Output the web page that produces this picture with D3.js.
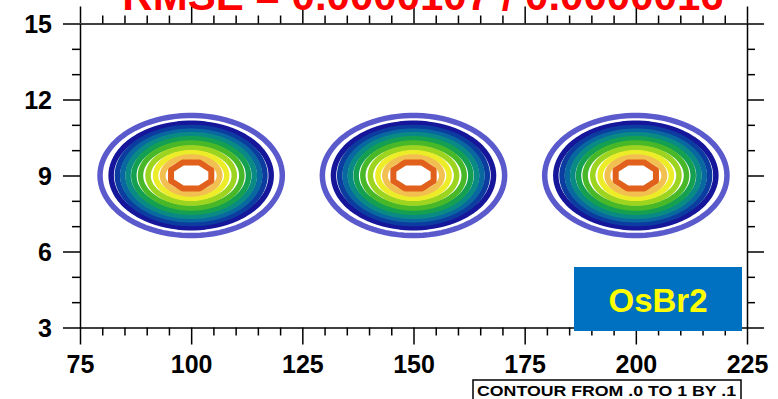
<!DOCTYPE html>
<html>
<head>
<meta charset="utf-8">
<script src="https://cdn.jsdelivr.net/npm/d3@7"></script>
<style>
  html, body { margin: 0; padding: 0; background: #fff; }
  svg { display: block; }
  .axis path, .axis line { stroke: #000; stroke-width: 1.5; }
  .axis text { font-family: "Liberation Sans", Arial, sans-serif; font-weight: bold; font-size: 25px; fill: #000; }
</style>
</head>
<body>
<svg id="chart" width="778" height="399"></svg>
<script>
// Axis ticks
const xMajorTicks = [75, 100, 125, 150, 175, 200, 225];
const yMajorTicks = [3, 6, 9, 12, 15];
const xMinorStep = 5;
const yMinorStep = 1;

// Centres of the three tracer bumps (x, y)
const bumpX = [100, 150, 200];
const bumpY = [9, 9, 9];

// Contour levels (.0 to 1 by .1) with the half-widths of each contour ring
const levels   = [0.0, 0.1, 0.2, 0.3, 0.4, 0.5, 0.6, 0.7, 0.8, 0.9, 1.0];
const levelRx  = [20.5, 18.0, 16.6, 15.4, 14.2, 12.9, 11.4, 9.7, 8.0, 6.4, 4.9];
const levelRy  = [2.37, 2.06, 1.90, 1.75, 1.61, 1.45, 1.28, 1.09, 0.90, 0.72, 0.56];
const levelColors = ["#5a5acd", "#16169a", "#0c3ca0", "#0a68a0", "#0a8a84", "#14a050",
                     "#48b828", "#9cd420", "#ecec28", "#f2c050", "#e0601c"];

const titleText  = "RMSE = 0.0000107 / 0.0000016";
const labelText  = "OsBr2";
const footerText = "CONTOUR FROM .0 TO 1 BY .1";

const svg = d3.select("#chart");
const x = d3.scaleLinear().domain([75, 225]).range([80, 747]);
const y = d3.scaleLinear().domain([3, 15]).range([327.5, 23.5]);

// ---- contour rings ----
const ringLine = d3.line()
  .x(d => x(d[0]))
  .y(d => y(d[1]))
  .curve(d3.curveLinearClosed);

const rings = svg.append("g").attr("class", "contours");
bumpX.forEach((cx, b) => {
  const cy = bumpY[b];
  levels.forEach((lev, i) => {
    const sides = lev >= 1 ? 8 : 90;
    const offset = lev >= 1 ? Math.PI / 8 : 0;
    const pts = d3.range(sides).map(k => {
      const t = offset + 2 * Math.PI * k / sides;
      return [cx + levelRx[i] * Math.cos(t), cy + levelRy[i] * Math.sin(t)];
    });
    rings.append("path")
      .attr("d", ringLine(pts))
      .attr("fill", "none")
      .attr("stroke", levelColors[i])
      .attr("stroke-width", lev >= 0.9 ? 6 : 5.5)
      .attr("stroke-linejoin", "round");
  });
});

// ---- axes ----
const xMinor = d3.range(75, 225 + 0.001, xMinorStep).filter(v => !xMajorTicks.includes(v));
const yMinor = d3.range(3, 15 + 0.001, yMinorStep).filter(v => !yMajorTicks.includes(v));
const MAJ = 17, MIN = 8;

function addAxis(axisFn, scale, transform, majors, minors, labelled) {
  const g = svg.append("g").attr("class", "axis").attr("transform", transform);
  g.call(axisFn(scale).tickValues(majors).tickSize(MAJ).tickSizeOuter(0)
    .tickPadding(6).tickFormat(labelled ? d3.format("d") : ""));
  const gm = svg.append("g").attr("class", "axis").attr("transform", transform);
  gm.call(axisFn(scale).tickValues(minors).tickSize(MIN).tickSizeOuter(0).tickFormat(""));
  gm.select(".domain").remove();
  return g;
}

const gb = addAxis(d3.axisBottom, x, `translate(0,${y(3)})`, xMajorTicks, xMinor, true);
gb.selectAll("text").attr("dy", null).attr("y", 45);
addAxis(d3.axisTop, x, `translate(0,${y(15)})`, xMajorTicks, xMinor, false);
const gl = addAxis(d3.axisLeft, y, `translate(${x(75)},0)`, yMajorTicks, yMinor, true);
gl.selectAll("text").attr("x", -28).attr("dy", "0.36em");
addAxis(d3.axisRight, y, `translate(${x(225)},0)`, yMajorTicks, yMinor, false);

// ---- scheme label box ----
svg.append("rect")
  .attr("x", 574).attr("y", 267).attr("width", 168).attr("height", 64)
  .attr("fill", "#0070c0");
svg.append("text")
  .attr("x", 658).attr("y", 300)
  .attr("text-anchor", "middle").attr("dominant-baseline", "central")
  .attr("font-family", "Liberation Sans, Arial, sans-serif")
  .attr("font-weight", "bold").attr("font-size", 33)
  .attr("fill", "#ffff00")
  .text(labelText);

// ---- contour info box ----
svg.append("rect")
  .attr("x", 473).attr("y", 380).attr("width", 268).attr("height", 30)
  .attr("fill", "#fff").attr("stroke", "#000").attr("stroke-width", 1.5);
svg.append("text")
  .attr("x", 477).attr("y", 396)
  .attr("font-family", "Liberation Sans, Arial, sans-serif")
  .attr("font-weight", "bold").attr("font-size", 15.5)
  .attr("textLength", 259).attr("lengthAdjust", "spacingAndGlyphs")
  .attr("fill", "#000")
  .text(footerText);

// ---- title ----
svg.append("text")
  .attr("x", 423).attr("y", 10)
  .attr("text-anchor", "middle")
  .attr("font-family", "Liberation Sans, Arial, sans-serif")
  .attr("font-weight", "bold").attr("font-size", 42)
  .attr("fill", "#ff0000")
  .text(titleText);
</script>
</body>
</html>
